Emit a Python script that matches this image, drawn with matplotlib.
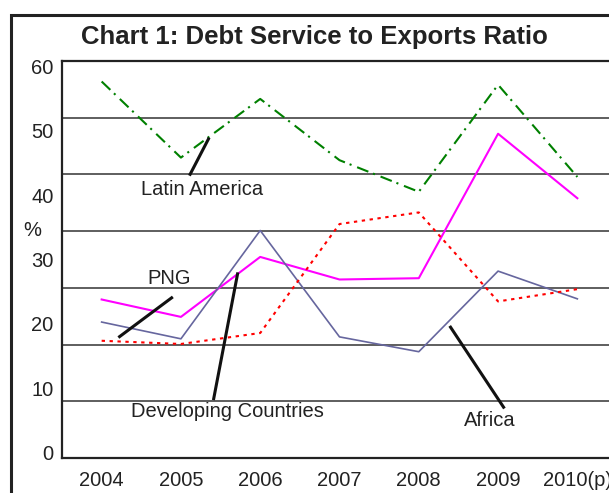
import numpy as np
import matplotlib
matplotlib.use("Agg")
import matplotlib.pyplot as plt
from matplotlib.patches import Rectangle

plt.rcParams['font.family'] = ['Liberation Sans', 'DejaVu Sans']

years = ["2004", "2005", "2006", "2007", "2008", "2009", "2010(p)"]
latin_america = [57.6, 45.8, 54.9, 45.4, 40.5, 57.1, 42.8]
png = [23.8, 21.1, 30.4, 26.9, 27.1, 49.5, 39.5]
africa = [20.3, 17.7, 34.5, 18.0, 15.7, 28.2, 23.9]
developing = [17.4, 16.9, 18.6, 35.5, 37.3, 23.5, 25.4]
y_ticks = [0, 10, 20, 30, 40, 50, 60]

W, H = 609, 493
fig = plt.figure(figsize=(W / 100, H / 100), dpi=100)

# outer box, runs off the right and bottom edges
fig.patches.append(Rectangle((11 / W, -0.2), 1.5, 1.2 - 15 / H, transform=fig.transFigure,
                             fill=False, lw=2.2, edgecolor="#222222"))

ax = fig.add_axes([62 / W, 35 / H, 555 / W, 397 / H])
x = np.arange(len(years))

# horizontal rules split the plot into seven bands
for k in range(1, 7):
    ax.plot([0, 1], [k / 7, k / 7], transform=ax.transAxes, color="#333333", lw=1.1, zorder=1)

ax.plot(x, latin_america, color="#008000", lw=1.5, ls=(0, (5.8, 2.4, 1, 2.9)), zorder=3)
ax.plot(x, png, color="#ff00ff", lw=1.5, zorder=3)
ax.plot(x, africa, color="#66669e", lw=1.2, zorder=3)
ax.plot(x, developing, color="#ff0000", lw=1.5, ls=(0, (1.6, 2.2)), zorder=3)

# leader lines + series names
labels = [
    ("Latin America", (1.268, 40.8), [(1.356, 48.9), (1.107, 43.0)]),
    ("PNG", (0.851, 27.0), [(0.898, 24.2), (0.211, 17.9)]),
    ("Developing Countries", (1.583, 6.5), [(1.718, 28.0), (1.410, 8.2)]),
    ("Africa", (4.89, 5.0), [(4.39, 19.7), (5.08, 6.9)]),
]
for name, (tx, ty), pts in labels:
    xs, ys = zip(*pts)
    ax.plot(xs, ys, color="#111111", lw=2.2, solid_capstyle="butt", zorder=4)
    ax.text(tx, ty, name, ha="center", va="center", fontsize=14.5, color="#222222", zorder=5)

ax.set_xlim(-0.5, 6.5)
ax.set_ylim(-0.78, 60.78)
ax.set_xticks(x)
ax.set_xticklabels(years)
ax.set_yticks(y_ticks)
ax.tick_params(length=0, labelsize=14.5, labelcolor="#222222")
ax.tick_params(axis="x", pad=9)
ax.tick_params(axis="y", pad=6)
for side in ["left", "top", "bottom"]:
    ax.spines[side].set_linewidth(1.6)
    ax.spines[side].set_color("#222222")
ax.spines["right"].set_visible(False)

fig.text(32 / W, 1 - 230 / H, "%", ha="center", va="center", fontsize=14.5, color="#222222")
fig.text(314.5 / W, 1 - 37 / H, "Chart 1: Debt Service to Exports Ratio", ha="center", va="center",
         fontsize=18.5, fontweight="bold", color="#222222")

fig.savefig("out.png", dpi=100)
